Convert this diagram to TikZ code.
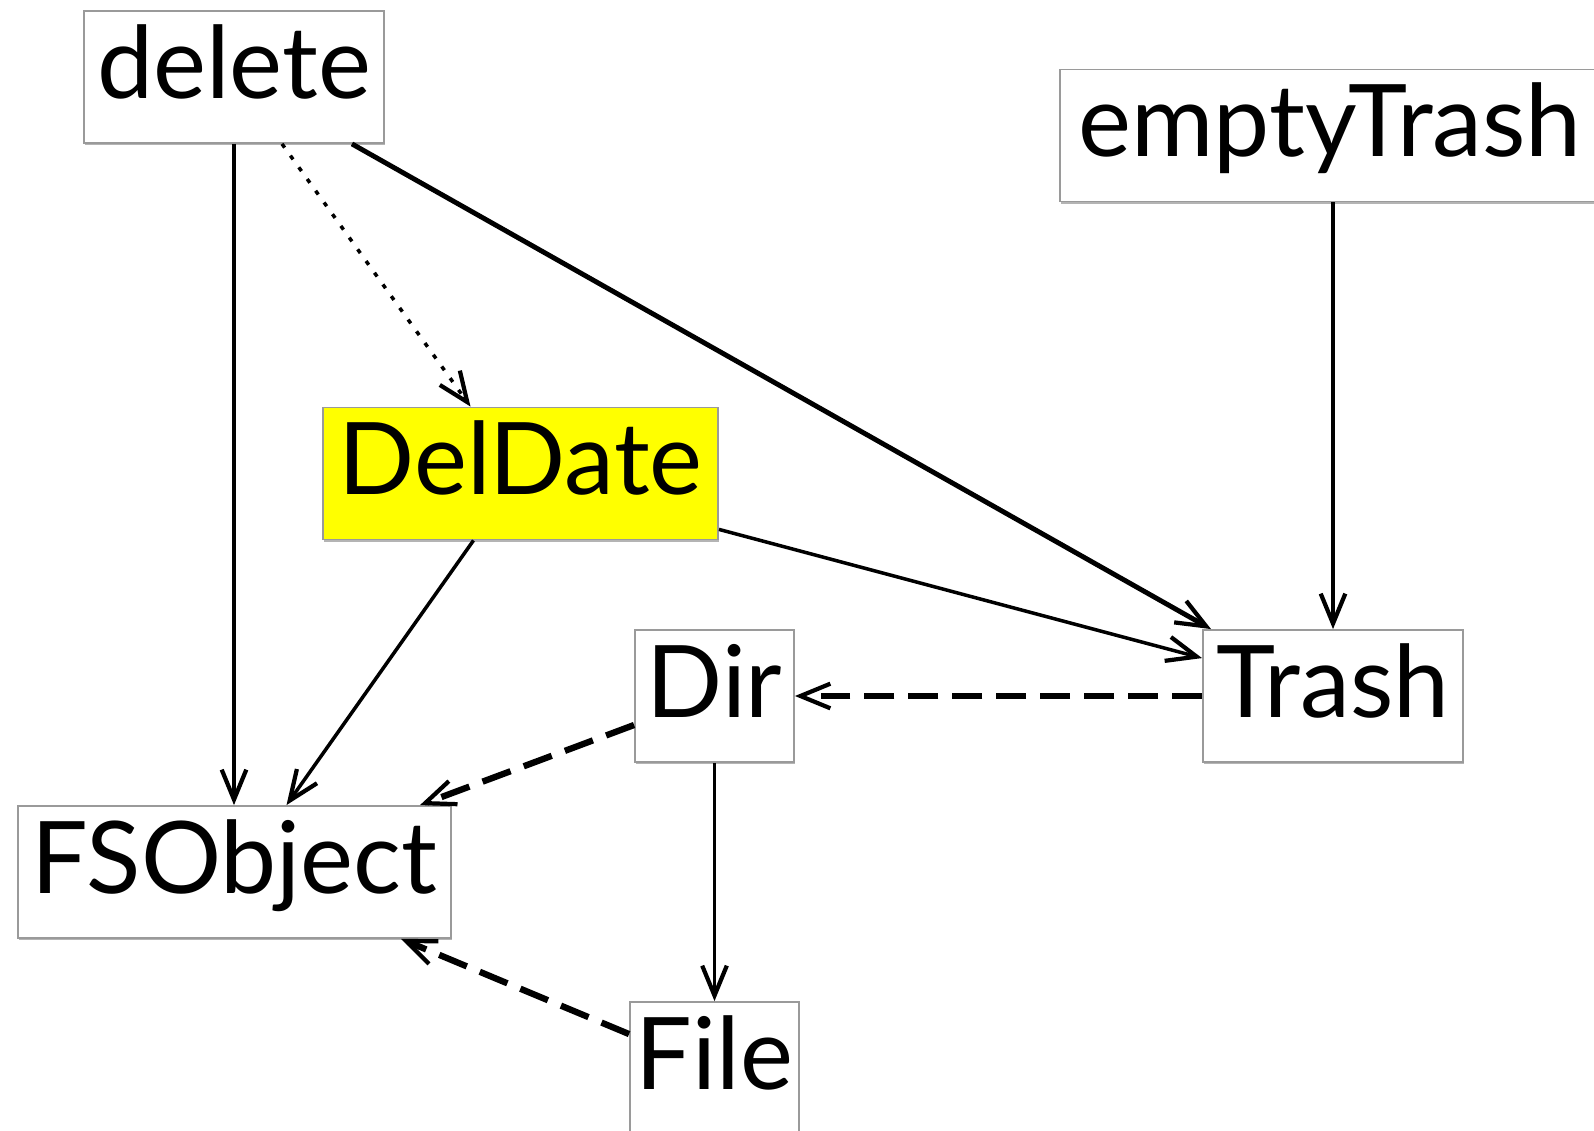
\documentclass[tikz,border=0pt]{standalone}
\usepackage{fontspec}
\setmainfont{Lato}
\usetikzlibrary{arrows.meta,calc,shadows}
\definecolor{alInk}   {HTML}{000000}
\definecolor{alRule}  {HTML}{9A9A9A}
\definecolor{alShade} {HTML}{B4B4B4}
\definecolor{alSun}   {HTML}{FFFF00}

\tikzset{
  objBox/.style={draw=alRule,fill=white,line width=0.5pt,inner sep=0pt,
    text height=0.87cm,text depth=0.45cm,align=center,
    font=\fontsize{28.5}{30}\selectfont,text=alInk,
    drop shadow={shadow xshift=0.2pt,shadow yshift=-0.6pt,fill=alShade,opacity=1}},
  relTip/.style={-{Straight Barb[length=8.5pt,width=7pt,line width=1.2pt]}},
  relLine/.style={relTip,line width=1pt,draw=alInk},
  relThick/.style={relTip,line width=1.4pt,draw=alInk},
  relDot/.style={relTip,line width=1pt,dash pattern=on 1.3pt off 2.8pt,draw=alInk},
  relDash/.style={relTip,line width=1.8pt,dash pattern=on 8.5pt off 4pt,draw=alInk}
}

\begin{document}
\begin{tikzpicture}[x=0.01cm,y=-0.01cm]
        \useasboundingbox (0,0) rectangle (1594,1131);
        % boxes
        \node[objBox,minimum width=3cm]    (delete)     at (234,77)     {delete};
        \node[objBox,minimum width=5.4cm]  (emptyTrash) at (1330,135.5) {emptyTrash};
        \node[objBox,minimum width=3.95cm,fill=alSun] (DelDate) at (520.5,473.5) {DelDate};
        \node[objBox,minimum width=1.59cm] (Dir)        at (714.5,696)  {Dir};
        \node[objBox,minimum width=2.6cm]  (Trash)      at (1333,696)   {Trash};
        \node[objBox,minimum width=4.33cm] (FSObject)   at (234.5,872)  {FSObject};
        \node[objBox,minimum width=1.69cm] (File)       at (714.5,1068) {File};

        % relations
        \draw[relLine]  (delete.south) -- (delete.south |- FSObject.north);
        \draw[relDot]   ($(delete.south)+(48,0)$) -- ($(DelDate.north)+(-50,0)$);
        \draw[relThick] ($(delete.south east)+(-33,0)$) -- ($(Trash.north west)+(9,0)$);
        \draw[relLine]  (emptyTrash.south -| Trash.north) -- (Trash.north);
        \draw[relLine]  ($(DelDate.south east)+(0,-11)$) -- ($(Trash.north west)+(0,29)$);
        \draw[relLine]  ($(DelDate.south)+(-47,0)$) -- ($(FSObject.north)+(52,0)$);
        \draw[relDash]  (Trash.west) -- (Dir.east);
        \draw[relDash]  ($(Dir.west)+(0,29)$) -- ($(FSObject.north east)+(-32,0)$);
        \draw[relLine]  (Dir.south) -- (File.north);
        \draw[relDash]  ($(File.north west)+(0,33)$) -- ($(FSObject.south east)+(-51,0)$);
      \end{tikzpicture}
\end{document}
